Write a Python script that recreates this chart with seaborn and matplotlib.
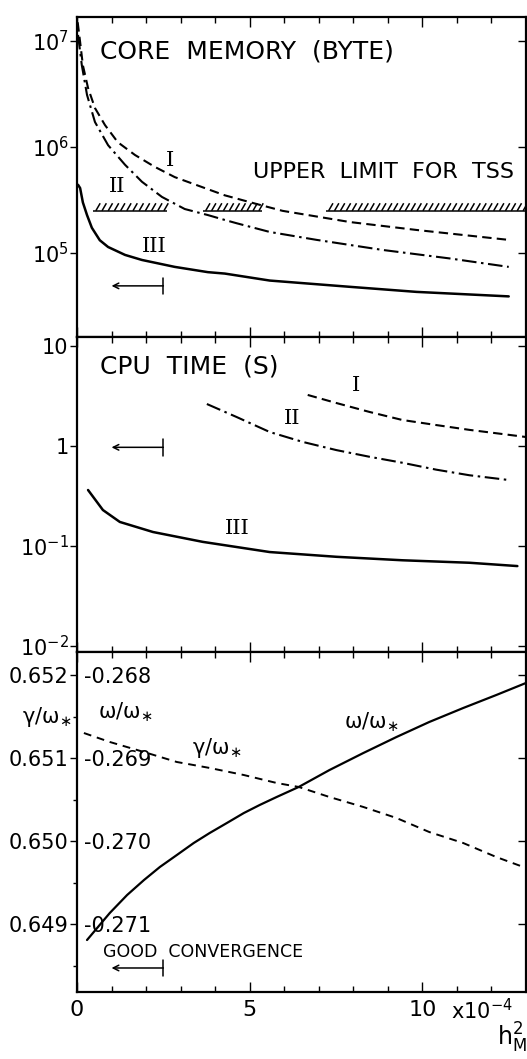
import numpy as np
import pandas as pd
import matplotlib
matplotlib.use("Agg")
import matplotlib.pyplot as plt
import matplotlib.patheffects as pe
import matplotlib.patches as mpatches
from matplotlib.ticker import FixedLocator, MultipleLocator, NullLocator, NullFormatter
import seaborn as sns

# ---------------- data ----------------
# Core memory (bytes) vs h_M^2 (x 1e-4)
mem_I_x = [0.02, 0.09, 0.17, 0.32, 0.52, 0.81, 1.18, 1.68, 2.25, 2.83, 3.61, 4.28, 5.2, 5.95, 7.9, 9.83, 12.5]
mem_I_y = [1.5e7, 9.8e6, 5.9e6, 3.6e6, 2.33e6, 1.61e6, 1.11e6, 8.4e5, 6.5e5, 5.2e5, 4.2e5, 3.5e5,
           2.9e5, 2.5e5, 1.96e5, 1.65e5, 1.33e5]
mem_II_x = [0.03, 0.14, 0.29, 0.52, 0.90, 1.39, 1.88, 2.46, 3.12, 3.79, 4.28, 4.62, 5.58, 6.94, 8.84, 10.78, 12.5]
mem_II_y = [1.14e7, 5.9e6, 3.1e6, 1.72e6, 1.04e6, 6.8e5, 4.7e5, 3.38e5, 2.6e5, 2.28e5, 2.05e5, 1.91e5,
            1.58e5, 1.33e5, 1.07e5, 8.9e4, 7.4e4]
mem_III_x = [0.03, 0.09, 0.17, 0.29, 0.43, 0.66, 0.90, 1.39, 1.88, 2.83, 3.79, 4.28, 5.58, 7.9, 9.83, 12.5]
mem_III_y = [4.4e5, 4.1e5, 3.0e5, 2.28e5, 1.73e5, 1.32e5, 1.14e5, 9.6e4, 8.6e4, 7.4e4, 6.6e4, 6.4e4,
             5.5e4, 4.8e4, 4.3e4, 3.9e4]
tss_limit = 2.5e5
tss_segments = [(0.46, 2.6), (3.64, 5.35), (7.2, 13.0)]

# CPU time (s)
cpu_I_x = [6.68, 7.51, 8.47, 9.42, 10.4, 11.36, 12.3, 13.0]
cpu_I_y = [3.24, 2.69, 2.19, 1.82, 1.62, 1.45, 1.32, 1.23]
cpu_II_x = [3.76, 4.62, 5.58, 6.53, 7.51, 8.47, 9.42, 10.4, 11.36, 12.43]
cpu_II_y = [2.63, 1.95, 1.38, 1.10, 0.91, 0.78, 0.68, 0.58, 0.51, 0.46]
cpu_III_x = [0.32, 0.75, 1.24, 2.2, 3.64, 5.58, 7.51, 9.42, 11.36, 12.75]
cpu_III_y = [0.363, 0.229, 0.174, 0.138, 0.110, 0.087, 0.078, 0.072, 0.068, 0.063]

# growth rate gamma/omega* and frequency omega/omega*
gam_x = [0.20, 0.95, 1.94, 2.89, 3.84, 4.83, 5.78, 6.42, 7.31, 8.29, 9.25, 10.20, 11.18, 12.14, 13.0]
gam_y = [0.651301, 0.651193, 0.651072, 0.650952, 0.650880, 0.650795, 0.650699, 0.650651, 0.650530,
         0.650410, 0.650277, 0.650108, 0.649976, 0.649807, 0.649675]
omg_x = [0.29, 0.95, 1.45, 1.94, 2.40, 2.89, 3.38, 3.84, 4.34, 4.83, 5.29, 5.78, 6.42, 7.31, 8.29,
         9.25, 10.20, 11.18, 12.14, 13.0]
omg_y = [-0.271193, -0.270867, -0.270651, -0.270470, -0.270313, -0.270169, -0.270024, -0.269904,
         -0.269783, -0.269663, -0.269566, -0.269470, -0.269349, -0.269145, -0.268940, -0.268747,
         -0.268566, -0.268398, -0.268241, -0.268096]

x_ticks = [0, 5, 10]
x_ticklabels = ["0", "5", "10"]
mem_ticks = [1e5, 1e6, 1e7]
mem_ticklabels = [r"$10^{5}$", r"$10^{6}$", r"$10^{7}$"]
cpu_ticks = [1e-2, 1e-1, 1, 10]
cpu_ticklabels = [r"$10^{-2}$", r"$10^{-1}$", "1", "10"]
gam_ticks = [0.649, 0.650, 0.651, 0.652]
gam_ticklabels = ["0.649", "0.650", "0.651", "0.652"]
omg_ticks = [-0.271, -0.270, -0.269, -0.268]
omg_ticklabels = ["-0.271", "-0.270", "-0.269", "-0.268"]
omega_offset = 0.920  # omega axis = gamma axis - offset

# ---------------- style ----------------
sns.set_theme(style="ticks")
plt.rcParams["font.family"] = ["DejaVu Sans"]
plt.rcParams["mathtext.default"] = "regular"
plt.rcParams["axes.linewidth"] = 1.6
plt.rcParams["axes.edgecolor"] = "black"
for key in ["text.color", "xtick.color", "ytick.color", "axes.labelcolor",
            "xtick.labelcolor", "ytick.labelcolor"]:
    plt.rcParams[key] = "black"

W, H = 527, 1059
fig = plt.figure(figsize=(W / 100, H / 100), dpi=100)
gs = fig.add_gridspec(3, 1, height_ratios=[320, 315, 340], hspace=0,
                      left=77 / W, right=526 / W, top=1 - 17 / H, bottom=1 - 992 / H)
ax1 = fig.add_subplot(gs[0])
ax2 = fig.add_subplot(gs[1], sharex=ax1)
ax3 = fig.add_subplot(gs[2], sharex=ax1)

lw = 1.5
dash_I = (4.5, 2.5)
dash_II = (7, 2.2, 1.2, 2.2)
k = "black"


def style_x(ax, labels):
    ax.set_xlim(0, 13)
    ax.xaxis.set_major_locator(FixedLocator(x_ticks))
    ax.xaxis.set_minor_locator(MultipleLocator(1))
    ax.tick_params(axis="x", which="both", direction="in", top=True, bottom=True,
                   labelbottom=labels, width=1.0)
    ax.tick_params(axis="x", which="major", length=7)
    ax.tick_params(axis="x", which="minor", length=4)
    ax.tick_params(axis="y", which="both", direction="out", left=True, right=False, width=1.0)
    ax.tick_params(axis="y", which="major", length=5, labelsize=15, pad=1)
    for s in ax.spines.values():
        s.set_visible(True)
        s.set_color("black")
    ax.set_xlabel("")
    ax.set_ylabel("")


def right_ticks(ax, ticks):
    sec = ax.secondary_yaxis("right", functions=(lambda v: v, lambda v: v))
    sec.yaxis.set_major_locator(FixedLocator(ticks))
    sec.yaxis.set_minor_locator(NullLocator())
    sec.yaxis.set_major_formatter(NullFormatter())
    sec.tick_params(axis="y", direction="in", length=6, width=1.0, colors="black")
    sec.spines["right"].set_visible(False)


def arrow(ax, y):
    ax.annotate("", xy=(2.5, y), xytext=(1.0, y), xycoords="data",
                arrowprops=dict(arrowstyle=mpatches.ArrowStyle("<-[", widthB=0.6, lengthB=0.0),
                                mutation_scale=10, color=k, lw=1.1, shrinkA=0, shrinkB=0))


def roman(ax, x, y, s):
    ax.text(x, y, s, fontsize=15, family="DejaVu Serif", va="center", ha="center")


# ---------------- panel 1: core memory ----------------
df = pd.DataFrame({"x": mem_I_x, "y": mem_I_y})
sns.lineplot(data=df, x="x", y="y", ax=ax1, color=k, lw=lw, linestyle=(0, dash_I), sort=False)
df = pd.DataFrame({"x": mem_II_x, "y": mem_II_y})
sns.lineplot(data=df, x="x", y="y", ax=ax1, color=k, lw=lw, linestyle=(0, dash_II), sort=False)
df = pd.DataFrame({"x": mem_III_x, "y": mem_III_y})
sns.lineplot(data=df, x="x", y="y", ax=ax1, color=k, lw=1.8, sort=False)
for (a, b) in tss_segments:
    ax1.plot([a, b], [tss_limit, tss_limit], color=k, lw=1.1, solid_capstyle="butt",
             path_effects=[pe.withTickedStroke(angle=60, spacing=4.2, length=1.5)])
ax1.set_yscale("log")
ax1.set_ylim(10 ** 4.208, 10 ** 7.226)
style_x(ax1, False)
ax1.yaxis.set_major_locator(FixedLocator(mem_ticks))
ax1.yaxis.set_minor_locator(NullLocator())
ax1.set_yticklabels(mem_ticklabels)
right_ticks(ax1, mem_ticks)
ax1.text(0.66, 8.0e6, "CORE  MEMORY  (BYTE)", fontsize=18, va="center", ha="left")
ax1.text(5.09, 5.8e5, "UPPER  LIMIT  FOR  TSS", fontsize=16, va="center", ha="left")
roman(ax1, 2.69, 7.5e5, "I")
roman(ax1, 1.16, 4.2e5, "II")
roman(ax1, 2.25, 1.15e5, "III")
arrow(ax1, 4.9e4)

# ---------------- panel 2: CPU time ----------------
df = pd.DataFrame({"x": cpu_I_x, "y": cpu_I_y})
sns.lineplot(data=df, x="x", y="y", ax=ax2, color=k, lw=lw, linestyle=(0, dash_I), sort=False)
df = pd.DataFrame({"x": cpu_II_x, "y": cpu_II_y})
sns.lineplot(data=df, x="x", y="y", ax=ax2, color=k, lw=lw, linestyle=(0, dash_II), sort=False)
df = pd.DataFrame({"x": cpu_III_x, "y": cpu_III_y})
sns.lineplot(data=df, x="x", y="y", ax=ax2, color=k, lw=1.8, sort=False)
ax2.set_yscale("log")
ax2.set_ylim(10 ** -2.06, 10 ** 1.09)
style_x(ax2, False)
ax2.yaxis.set_major_locator(FixedLocator(cpu_ticks))
ax2.yaxis.set_minor_locator(NullLocator())
ax2.set_yticklabels(cpu_ticklabels)
right_ticks(ax2, cpu_ticks)
ax2.text(0.66, 6.3, "CPU  TIME  (S)", fontsize=18, va="center", ha="left")
roman(ax2, 8.09, 4.0, "I")
roman(ax2, 6.24, 1.89, "II")
roman(ax2, 4.65, 0.148, "III")
arrow(ax2, 0.97)

# ---------------- panel 3: gamma and omega ----------------
g_lo = 0.649 - 68 / 83000
g_hi = 0.652 + 23 / 83000
df = pd.DataFrame({"x": gam_x, "y": gam_y})
sns.lineplot(data=df, x="x", y="y", ax=ax3, color=k, lw=1.4, linestyle=(0, (4, 3)), sort=False)
ax3.set_ylim(g_lo, g_hi)
style_x(ax3, True)
ax3.yaxis.set_major_locator(FixedLocator(gam_ticks))
ax3.yaxis.set_minor_locator(MultipleLocator(0.0005))
ax3.tick_params(axis="y", which="minor", length=3)
ax3.set_yticklabels(gam_ticklabels)
ax3.tick_params(axis="x", which="major", labelsize=16, pad=6)
ax3.set_xticklabels(x_ticklabels)
right_ticks(ax3, gam_ticks)

ax3w = ax3.twinx()
df = pd.DataFrame({"x": omg_x, "y": omg_y})
sns.lineplot(data=df, x="x", y="y", ax=ax3w, color=k, lw=1.6, sort=False)
ax3w.set_ylim(g_lo - omega_offset, g_hi - omega_offset)
ax3w.yaxis.tick_left()
ax3w.yaxis.set_major_locator(FixedLocator(omg_ticks))
ax3w.yaxis.set_minor_locator(NullLocator())
ax3w.set_yticklabels(omg_ticklabels)
ax3w.tick_params(axis="y", which="both", direction="in", length=0, pad=-5, labelsize=15,
                 left=True, right=False, labelleft=True, labelright=False)
for t in ax3w.get_yticklabels():
    t.set_horizontalalignment("left")
for s in ax3w.spines.values():
    s.set_visible(False)
ax3w.set_ylabel("")
ax3w.set_xlabel("")

gam_label = r"$\gamma/\omega_{\ast}$"
omg_label = r"$\omega/\omega_{\ast}$"
ax3.text(-0.012, 0.81, gam_label, transform=ax3.transAxes, fontsize=15, ha="right", va="center")
ax3.text(1.39, 0.65155, omg_label, fontsize=15, ha="center", va="center")
ax3.text(4.05, 0.65112, gam_label, fontsize=15, ha="center", va="center")
ax3.text(8.53, 0.65143, omg_label, fontsize=15, ha="center", va="center")
ax3.text(0.75, 0.64866, "GOOD  CONVERGENCE", fontsize=12.5, ha="left", va="center")
arrow(ax3, 0.64847)
ax3.text(0.833, -0.056, r"x10$^{-4}$", transform=ax3.transAxes, fontsize=15, ha="left", va="center")
ax3.text(0.935, -0.135, r"$h_M^2$", transform=ax3.transAxes, fontsize=17, ha="left", va="center")

fig.savefig("out.png", dpi=100, facecolor="white")
